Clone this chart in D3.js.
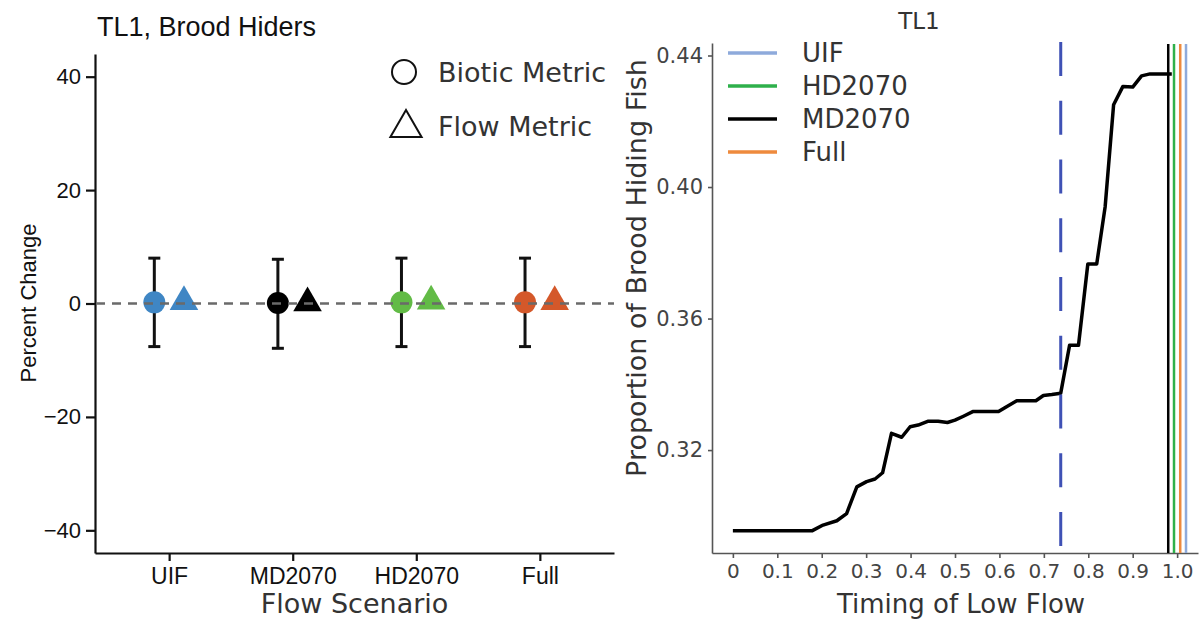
<!DOCTYPE html>
<html>
<head>
<meta charset="utf-8">
<script src="https://cdn.jsdelivr.net/npm/d3@7"></script>
<style>
  body { margin: 0; background: #fff; }
  svg { display: block; }
</style>
</head>
<body>
<div id="chart"></div>
<script>
// left panel data: percent change by flow scenario
var categories = ["UIF", "MD2070", "HD2070", "Full"];
var catColors = ["#3f86c4", "#000000", "#62bb46", "#d4582a"];
var bioticValues = [0.2, 0.1, 0.2, 0.2];
var flowValues = [0.3, 0.1, 0.4, 0.3];
var lowerValues = [-7.6, -7.9, -7.6, -7.6];
var upperValues = [8.0, 7.8, 8.0, 8.0];
var leftTicks = [-40, -20, 0, 20, 40];

// right panel data: proportion of brood hiding fish vs timing of low flow
var timing = [0, 0.179, 0.203, 0.234, 0.256, 0.279, 0.301, 0.320, 0.337, 0.357, 0.380,
  0.399, 0.417, 0.440, 0.462, 0.483, 0.500, 0.519, 0.540, 0.598, 0.616, 0.639, 0.682,
  0.699, 0.718, 0.738, 0.758, 0.778, 0.799, 0.819, 0.838, 0.857, 0.878, 0.900, 0.920,
  0.939, 0.988];
var proportion = [0.2955, 0.2955, 0.2972, 0.2985, 0.3007, 0.3088, 0.3104, 0.3112, 0.3131,
  0.3251, 0.3239, 0.3271, 0.3276, 0.3288, 0.3288, 0.3284, 0.3291, 0.3303, 0.3317, 0.3317,
  0.3332, 0.3350, 0.3350, 0.3366, 0.3369, 0.3373, 0.3519, 0.3519, 0.3766, 0.3766, 0.3940,
  0.4250, 0.4306, 0.4304, 0.4338, 0.4344, 0.4344];
var scenarioNames = ["UIF", "HD2070", "MD2070", "Full"];
var scenarioColors = ["#8eaadb", "#2eb04b", "#000000", "#ee8a3d"];
var scenarioTiming = [1.020, 0.993, 0.980, 1.007];
var thresholdTiming = 0.738;
var rightYTicks = [0.32, 0.36, 0.40, 0.44];
var rightXTicks = [0, 0.1, 0.2, 0.3, 0.4, 0.5, 0.6, 0.7, 0.8, 0.9, 1.0];
var rightXLabels = ["0", "0.1", "0.2", "0.3", "0.4", "0.5", "0.6", "0.7", "0.8", "0.9", "1.0"];

var width = 1201, height = 629;
var arial = "'Liberation Sans', Arial, sans-serif";
var gothic = "'DejaVu Sans', sans-serif";

var svg = d3.select("#chart").append("svg")
  .attr("width", width)
  .attr("height", height);

// R style triangle path (pch 17), centred on the point
function triangle(r) {
  var xc = r * Math.sqrt(3) / 2;
  return "M0," + (-r) + "L" + xc + "," + (r / 2) + "L" + (-xc) + "," + (r / 2) + "Z";
}

/*------------------------------ left panel ------------------------------*/
var left = svg.append("g");

var x = d3.scalePoint().domain(categories).range([95, 614]).padding(0.6);
var y = d3.scaleLinear().domain([-44, 44]).range([553, 54]);
var dodge = x.step() * 0.12;

var yAxisL = left.append("g")
  .attr("transform", "translate(95,0)")
  .call(d3.axisLeft(y).tickValues(leftTicks).tickSize(9).tickSizeOuter(0).tickPadding(5)
    .tickFormat(function(d) { return d < 0 ? "\u2212" + Math.abs(d) : d; }));
var xAxisL = left.append("g")
  .attr("transform", "translate(0,553)")
  .call(d3.axisBottom(x).tickSize(8).tickSizeOuter(0).tickPadding(7));

[yAxisL, xAxisL].forEach(function(a) {
  a.selectAll("path, line").attr("stroke", "#111").attr("stroke-width", 2.2);
  a.selectAll("text").attr("font-family", arial).attr("font-size", 22).attr("fill", "#111");
});
xAxisL.selectAll("text").attr("font-size", 23);

var rows = categories.map(function(c, i) {
  return { cat: c, color: catColors[i], biotic: bioticValues[i], flow: flowValues[i],
    lo: lowerValues[i], hi: upperValues[i] };
});

// error bars
var bars = left.append("g").selectAll("g").data(rows).enter().append("g")
  .attr("stroke", "#111").attr("stroke-width", 3);
bars.append("line")
  .attr("x1", function(d) { return x(d.cat) - dodge; })
  .attr("x2", function(d) { return x(d.cat) - dodge; })
  .attr("y1", function(d) { return y(d.lo); })
  .attr("y2", function(d) { return y(d.hi); });
bars.append("line")
  .attr("x1", function(d) { return x(d.cat) - dodge - 6; })
  .attr("x2", function(d) { return x(d.cat) - dodge + 6; })
  .attr("y1", function(d) { return y(d.hi); })
  .attr("y2", function(d) { return y(d.hi); });
bars.append("line")
  .attr("x1", function(d) { return x(d.cat) - dodge - 6; })
  .attr("x2", function(d) { return x(d.cat) - dodge + 6; })
  .attr("y1", function(d) { return y(d.lo); })
  .attr("y2", function(d) { return y(d.lo); });

left.append("g").selectAll("circle").data(rows).enter().append("circle")
  .attr("cx", function(d) { return x(d.cat) - dodge; })
  .attr("cy", function(d) { return y(d.biotic); })
  .attr("r", 11)
  .attr("fill", function(d) { return d.color; });

left.append("g").selectAll("path").data(rows).enter().append("path")
  .attr("d", triangle(16.5))
  .attr("transform", function(d) { return "translate(" + (x(d.cat) + dodge) + "," + y(d.flow) + ")"; })
  .attr("fill", function(d) { return d.color; });

// zero reference line
left.append("line")
  .attr("x1", 96).attr("x2", 614)
  .attr("y1", y(0)).attr("y2", y(0))
  .attr("stroke", "#6a6a6a").attr("stroke-width", 2.5)
  .attr("stroke-dasharray", "9,7");

left.append("text")
  .attr("x", 97).attr("y", 36)
  .attr("font-family", arial).attr("font-size", 27).attr("fill", "#111")
  .text("TL1, Brood Hiders");

left.append("text")
  .attr("transform", "translate(36,303) rotate(-90)")
  .attr("text-anchor", "middle")
  .attr("font-family", arial).attr("font-size", 22).attr("fill", "#111")
  .text("Percent Change");

left.append("text")
  .attr("x", x("MD2070") + x.step() / 2).attr("y", 613)
  .attr("text-anchor", "middle")
  .attr("font-family", gothic).attr("font-size", 27).attr("fill", "#333")
  .text("Flow Scenario");

// shape legend
var legL = left.append("g");
legL.append("circle").attr("cx", 404).attr("cy", 72).attr("r", 12)
  .attr("fill", "none").attr("stroke", "#111").attr("stroke-width", 2);
legL.append("path").attr("d", triangle(18))
  .attr("transform", "translate(406,128)")
  .attr("fill", "none").attr("stroke", "#111").attr("stroke-width", 2);
legL.selectAll("text").data(["Biotic Metric", "Flow Metric"]).enter().append("text")
  .attr("x", 438)
  .attr("y", function(d, i) { return 72 + i * 54; })
  .attr("dy", "0.36em")
  .attr("font-family", gothic).attr("font-size", 27).attr("fill", "#333")
  .text(function(d) { return d; });

/*------------------------------ right panel ------------------------------*/
var right = svg.append("g");

var xr = d3.scaleLinear().domain([-0.047, 1.047]).range([712, 1198]);
var yr = d3.scaleLinear().domain([0.2887, 0.4438]).range([553, 43]);

var yAxisR = right.append("g")
  .attr("transform", "translate(712,0)")
  .call(d3.axisLeft(yr).tickValues(rightYTicks).tickSize(4).tickSizeOuter(0).tickPadding(5)
    .tickFormat(d3.format(".2f")));
var xAxisR = right.append("g")
  .attr("transform", "translate(0,553)")
  .call(d3.axisBottom(xr).tickValues(rightXTicks).tickSize(5).tickSizeOuter(0).tickPadding(6)
    .tickFormat(function(d, i) { return rightXLabels[i]; }));

[yAxisR, xAxisR].forEach(function(a) {
  a.selectAll("path, line").attr("stroke", "#555").attr("stroke-width", 1.6);
  a.selectAll("text").attr("font-family", gothic).attr("font-size", 21).attr("fill", "#444");
});
xAxisR.selectAll("text").attr("font-size", 20);

var curve = timing.map(function(t, i) { return [t, proportion[i]]; });
right.append("path")
  .datum(curve)
  .attr("fill", "none")
  .attr("stroke", "#000")
  .attr("stroke-width", 3.5)
  .attr("stroke-linejoin", "round")
  .attr("d", d3.line().x(function(d) { return xr(d[0]); }).y(function(d) { return yr(d[1]); }));

right.append("line")
  .attr("x1", xr(thresholdTiming)).attr("x2", xr(thresholdTiming))
  .attr("y1", 42).attr("y2", 553)
  .attr("stroke", "#3f51b5").attr("stroke-width", 3)
  .attr("stroke-dasharray", "34,24.75");

right.append("g").selectAll("line").data(scenarioNames).enter().append("line")
  .attr("x1", function(d, i) { return xr(scenarioTiming[i]); })
  .attr("x2", function(d, i) { return xr(scenarioTiming[i]); })
  .attr("y1", 44).attr("y2", 553)
  .attr("stroke", function(d, i) { return scenarioColors[i]; })
  .attr("stroke-width", 2.5);

var legR = right.append("g").selectAll("g").data(scenarioNames).enter().append("g")
  .attr("transform", function(d, i) { return "translate(0," + (53 + i * 33) + ")"; });
legR.append("line")
  .attr("x1", 728).attr("x2", 777)
  .attr("stroke", function(d, i) { return scenarioColors[i]; })
  .attr("stroke-width", 3.5);
legR.append("text")
  .attr("x", 802).attr("dy", "0.36em")
  .attr("font-family", gothic).attr("font-size", 26).attr("fill", "#333")
  .text(function(d) { return d; });

right.append("text")
  .attr("x", 919).attr("y", 29)
  .attr("text-anchor", "middle")
  .attr("font-family", gothic).attr("font-size", 23).attr("fill", "#333")
  .text("TL1");

right.append("text")
  .attr("transform", "translate(646,268) rotate(-90)")
  .attr("text-anchor", "middle")
  .attr("font-family", gothic).attr("font-size", 27).attr("fill", "#333")
  .text("Proportion of Brood Hiding Fish");

right.append("text")
  .attr("x", 961).attr("y", 613)
  .attr("text-anchor", "middle")
  .attr("font-family", gothic).attr("font-size", 26).attr("fill", "#333")
  .text("Timing of Low Flow");
</script>
</body>
</html>
